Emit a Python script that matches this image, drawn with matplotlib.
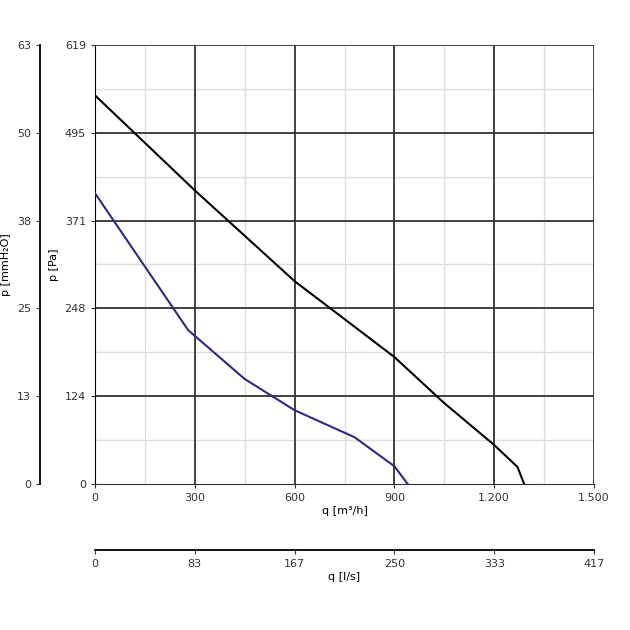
import matplotlib
matplotlib.use("Agg")
import matplotlib.pyplot as plt
import numpy as np

q1 = [0, 300, 600, 900, 1050, 1200, 1270, 1290]
p1 = [548, 414, 286, 179, 114, 55, 24, 0]
q2 = [0, 280, 450, 600, 780, 900, 940]
p2 = [410, 217, 148, 104, 66, 25, 0]
pa_ticks = [0, 124, 248, 371, 495, 619]
mm_labels = ["0", "13", "25", "38", "50", "63"]
q_ticks = [0, 300, 600, 900, 1200, 1500]
q_labels = ["0", "300", "600", "900", "1.200", "1.500"]
ls_labels = ["0", "83", "167", "250", "333", "417"]

fig = plt.figure(figsize=(6.3, 6.3), dpi=100)
W = H = 630
ax = fig.add_axes([95/W, 1-484/H, (594-95)/W, (484-45)/H])
ax.set_xlim(0, 1500); ax.set_ylim(0, 619)
for x in np.arange(150, 1500, 300):
    ax.axvline(x, color="#dddddd", lw=1, zorder=0)
for y in [62, 186, 310, 433, 557]:
    ax.axhline(y, color="#dddddd", lw=1, zorder=0)
for x in q_ticks[1:]:
    ax.axvline(x, color="#333333", lw=1.3, zorder=1)
for y in pa_ticks[1:]:
    ax.axhline(y, color="#333333", lw=1.3, zorder=1)
for s in ["top", "right"]:
    ax.spines[s].set_visible(False)
ax.spines["bottom"].set_color("#333333")
ax.plot(q1, p1, color="black", lw=1.5, zorder=3)
ax.plot(q2, p2, color="#2a2a8a", lw=1.5, zorder=3)
ax.set_xticks(q_ticks); ax.set_xticklabels(q_labels, fontsize=8)
ax.set_yticks(pa_ticks); ax.set_yticklabels([str(v) for v in pa_ticks], fontsize=8)
ax.tick_params(length=3, colors="#333333")
ax.set_xlabel("q [m³/h]", fontsize=8, labelpad=2)
ax.set_ylabel("p [Pa]", fontsize=8, labelpad=4)

ax2 = fig.add_axes([40/W, 1-484/H, 0.001, (484-45)/H])
ax2.set_ylim(0, 619)
for s in ["top", "right", "bottom"]:
    ax2.spines[s].set_visible(False)
ax2.spines["left"].set_linewidth(1.3)
ax2.set_xticks([])
ax2.set_yticks(pa_ticks); ax2.set_yticklabels(mm_labels, fontsize=8)
ax2.tick_params(length=3, colors="#333333")
ax2.set_ylabel("p [mmH₂O]", fontsize=8, labelpad=4)

ax3 = fig.add_axes([95/W, 1-550/H, (594-95)/W, 0.001])
ax3.set_xlim(0, 1500)
for s in ["top", "right", "left"]:
    ax3.spines[s].set_visible(False)
ax3.spines["bottom"].set_linewidth(1.3)
ax3.set_yticks([])
ax3.set_xticks(q_ticks); ax3.set_xticklabels(ls_labels, fontsize=8)
ax3.tick_params(length=3, colors="#333333")
ax3.set_xlabel("q [l/s]", fontsize=8, labelpad=2)

fig.savefig("out.png", dpi=100)
